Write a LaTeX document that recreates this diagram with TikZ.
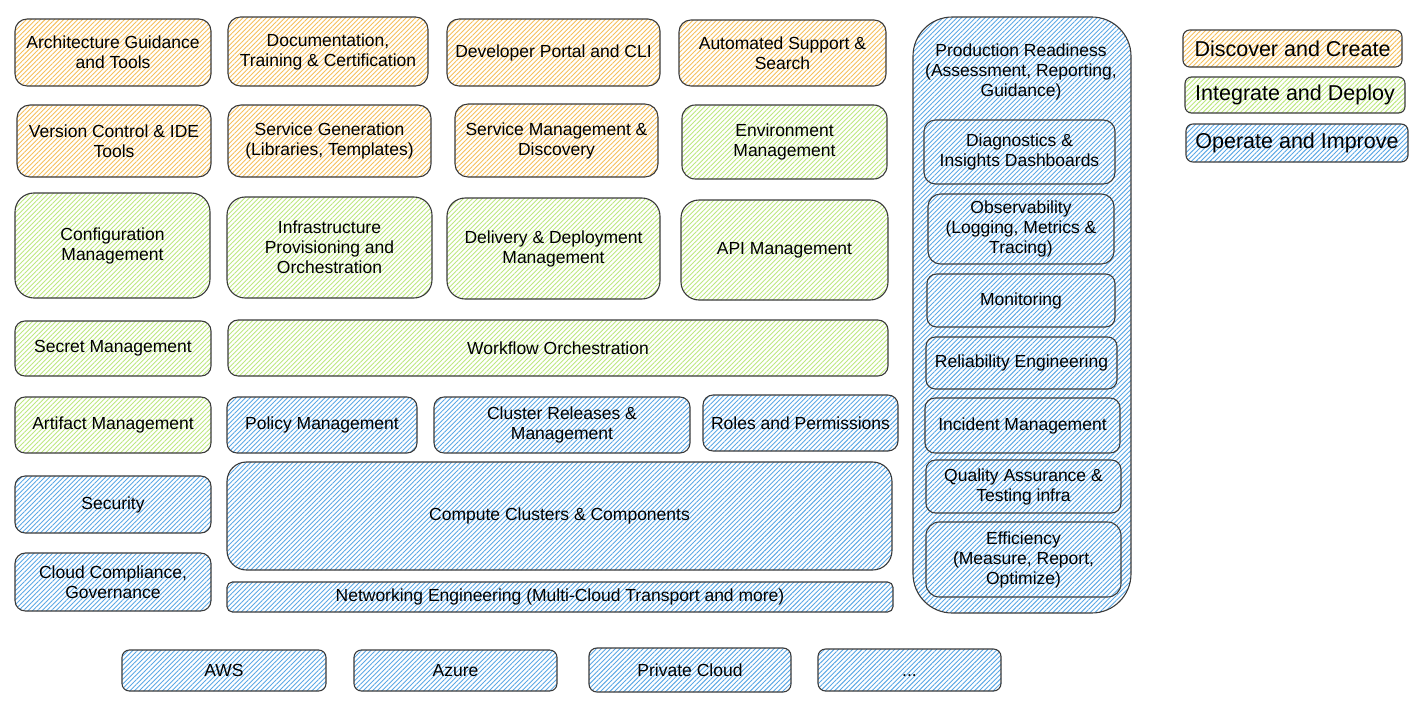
\documentclass[tikz,border=0pt]{standalone}
\usepackage{fontspec}
\setmainfont{Liberation Sans}
\usetikzlibrary{patterns.meta}

\definecolor{edge}{HTML}{3A3A3A}
\definecolor{hatchorange}{RGB}{246,192,92}
\definecolor{hatchgreen}{RGB}{190,232,128}
\definecolor{hatchblue}{RGB}{92,168,230}

\tikzset{
  card/.style={draw=edge, line width=1.1pt, preaction={fill=white},
    inner sep=0pt, outer sep=0pt, align=center,
    font=\fontsize{17.5}{20}\selectfont, text=black},
  create/.style={card, pattern={Lines[angle=45,distance=3.3pt,line width=0.9pt]},
    pattern color=hatchorange},
  deploy/.style={card, pattern={Lines[angle=45,distance=3.3pt,line width=0.9pt]},
    pattern color=hatchgreen},
  operate/.style={card, pattern={Lines[angle=45,distance=3.3pt,line width=0.9pt]},
    pattern color=hatchblue},
  legendtext/.style={font=\fontsize{21.5}{24}\selectfont},
}

% \mkcard{style}{name}{x1}{y1}{x2}{y2}{text}: rounded box spanning two corners
\newcommand\mkcard[7]{%
  \pgfmathsetmacro\cardwd{#5-#3}%
  \pgfmathsetmacro\cardht{#6-#4}%
  \pgfmathsetmacro\cardrad{0.18*min(\cardwd,\cardht)}%
  \node[#1, minimum width=\cardwd pt, minimum height=\cardht pt,
        rounded corners=\cardrad pt, anchor=north west] (#2) at (#3,#4) {#7};%
}

\begin{document}
\begin{tikzpicture}[x=1pt, y=-1pt]
\useasboundingbox (0,0) rectangle (1418,704);

% Discover and Create
\mkcard{create}{arch}{15}{19}{211}{86}{Architecture Guidance\\and Tools}
\mkcard{create}{docs}{228}{17}{428}{86}{Documentation,\\Training \& Certification}
\mkcard{create}{portal}{447}{19}{660}{86}{Developer Portal and CLI}
\mkcard{create}{support}{679}{20}{886}{86}{Automated Support \&\\Search}
\mkcard{create}{vcs}{17}{105}{211}{177}{Version Control \& IDE\\Tools}
\mkcard{create}{svcgen}{228}{105}{431}{177}{Service Generation\\(Libraries, Templates)}
\mkcard{create}{svcmgmt}{455}{104}{658}{177}{Service Management \&\\Discovery}

% Integrate and Deploy
\mkcard{deploy}{envmgmt}{682}{105}{887}{179}{Environment\\Management}
\mkcard{deploy}{config}{15}{193}{210}{298}{Configuration\\Management}
\mkcard{deploy}{infra}{227}{197}{432}{298}{Infrastructure\\Provisioning and\\Orchestration}
\mkcard{deploy}{delivery}{447}{198}{660}{299}{Delivery \& Deployment\\Management}
\mkcard{deploy}{api}{681}{200}{888}{300}{API Management}
\mkcard{deploy}{secret}{15}{321}{211}{376}{Secret Management}
\mkcard{deploy}{workflow}{228}{320}{888}{376}{Workflow Orchestration}
\mkcard{deploy}{artifact}{15}{397}{211}{453}{Artifact Management}

% Operate and Improve
\mkcard{operate}{policy}{227}{397}{417}{453}{Policy Management}
\mkcard{operate}{cluster}{434}{397}{690}{453}{Cluster Releases \&\\Management}
\mkcard{operate}{roles}{703}{395}{898}{451}{Roles and Permissions}
\mkcard{operate}{security}{15}{476}{211}{533}{Security}
\mkcard{operate}{compute}{227}{462}{892}{570}{Compute Clusters \& Components}
\mkcard{operate}{compliance}{15}{553}{211}{611}{Cloud Compliance,\\Governance}
\mkcard{operate}{network}{227}{582}{893}{612}{Networking Engineering (Multi-Cloud Transport and more)}

% Cloud providers
\mkcard{operate}{aws}{122}{650}{326}{691}{AWS}
\mkcard{operate}{azure}{354}{650}{557}{691}{Azure}
\mkcard{operate}{private}{589}{648}{791}{692}{Private Cloud}
\mkcard{operate}{more}{818}{649}{1001}{691}{\vphantom{A}...}

% Production readiness column
\mkcard{operate}{prod}{913}{17}{1131}{613}{}
\node[font=\fontsize{17.5}{20}\selectfont, align=center] (prodtitle) at (1021,72)
  {Production Readiness\\(Assessment, Reporting,\\Guidance)};
\mkcard{operate}{diag}{924}{120}{1115}{184}{Diagnostics \&\\Insights Dashboards}
\mkcard{operate}{observ}{928}{194}{1114}{264}{Observability\\(Logging, Metrics \&\\Tracing)}
\mkcard{operate}{monitor}{927}{274}{1115}{327}{Monitoring}
\mkcard{operate}{reliab}{926}{337}{1117}{389}{Reliability Engineering}
\mkcard{operate}{incident}{925}{398}{1120}{453}{Incident Management}
\mkcard{operate}{qa}{926}{460}{1121}{513}{Quality Assurance \&\\Testing infra}
\mkcard{operate}{effic}{926}{522}{1121}{597}{Efficiency\\(Measure, Report,\\Optimize)}

% Legend
\mkcard{create,legendtext}{legcreate}{1183}{30}{1402}{67}{Discover and Create}
\mkcard{deploy,legendtext}{legdeploy}{1185}{77}{1405}{113}{Integrate and Deploy}
\mkcard{operate,legendtext}{legoperate}{1186}{124}{1408}{162}{Operate and Improve}
\end{tikzpicture}
\end{document}
